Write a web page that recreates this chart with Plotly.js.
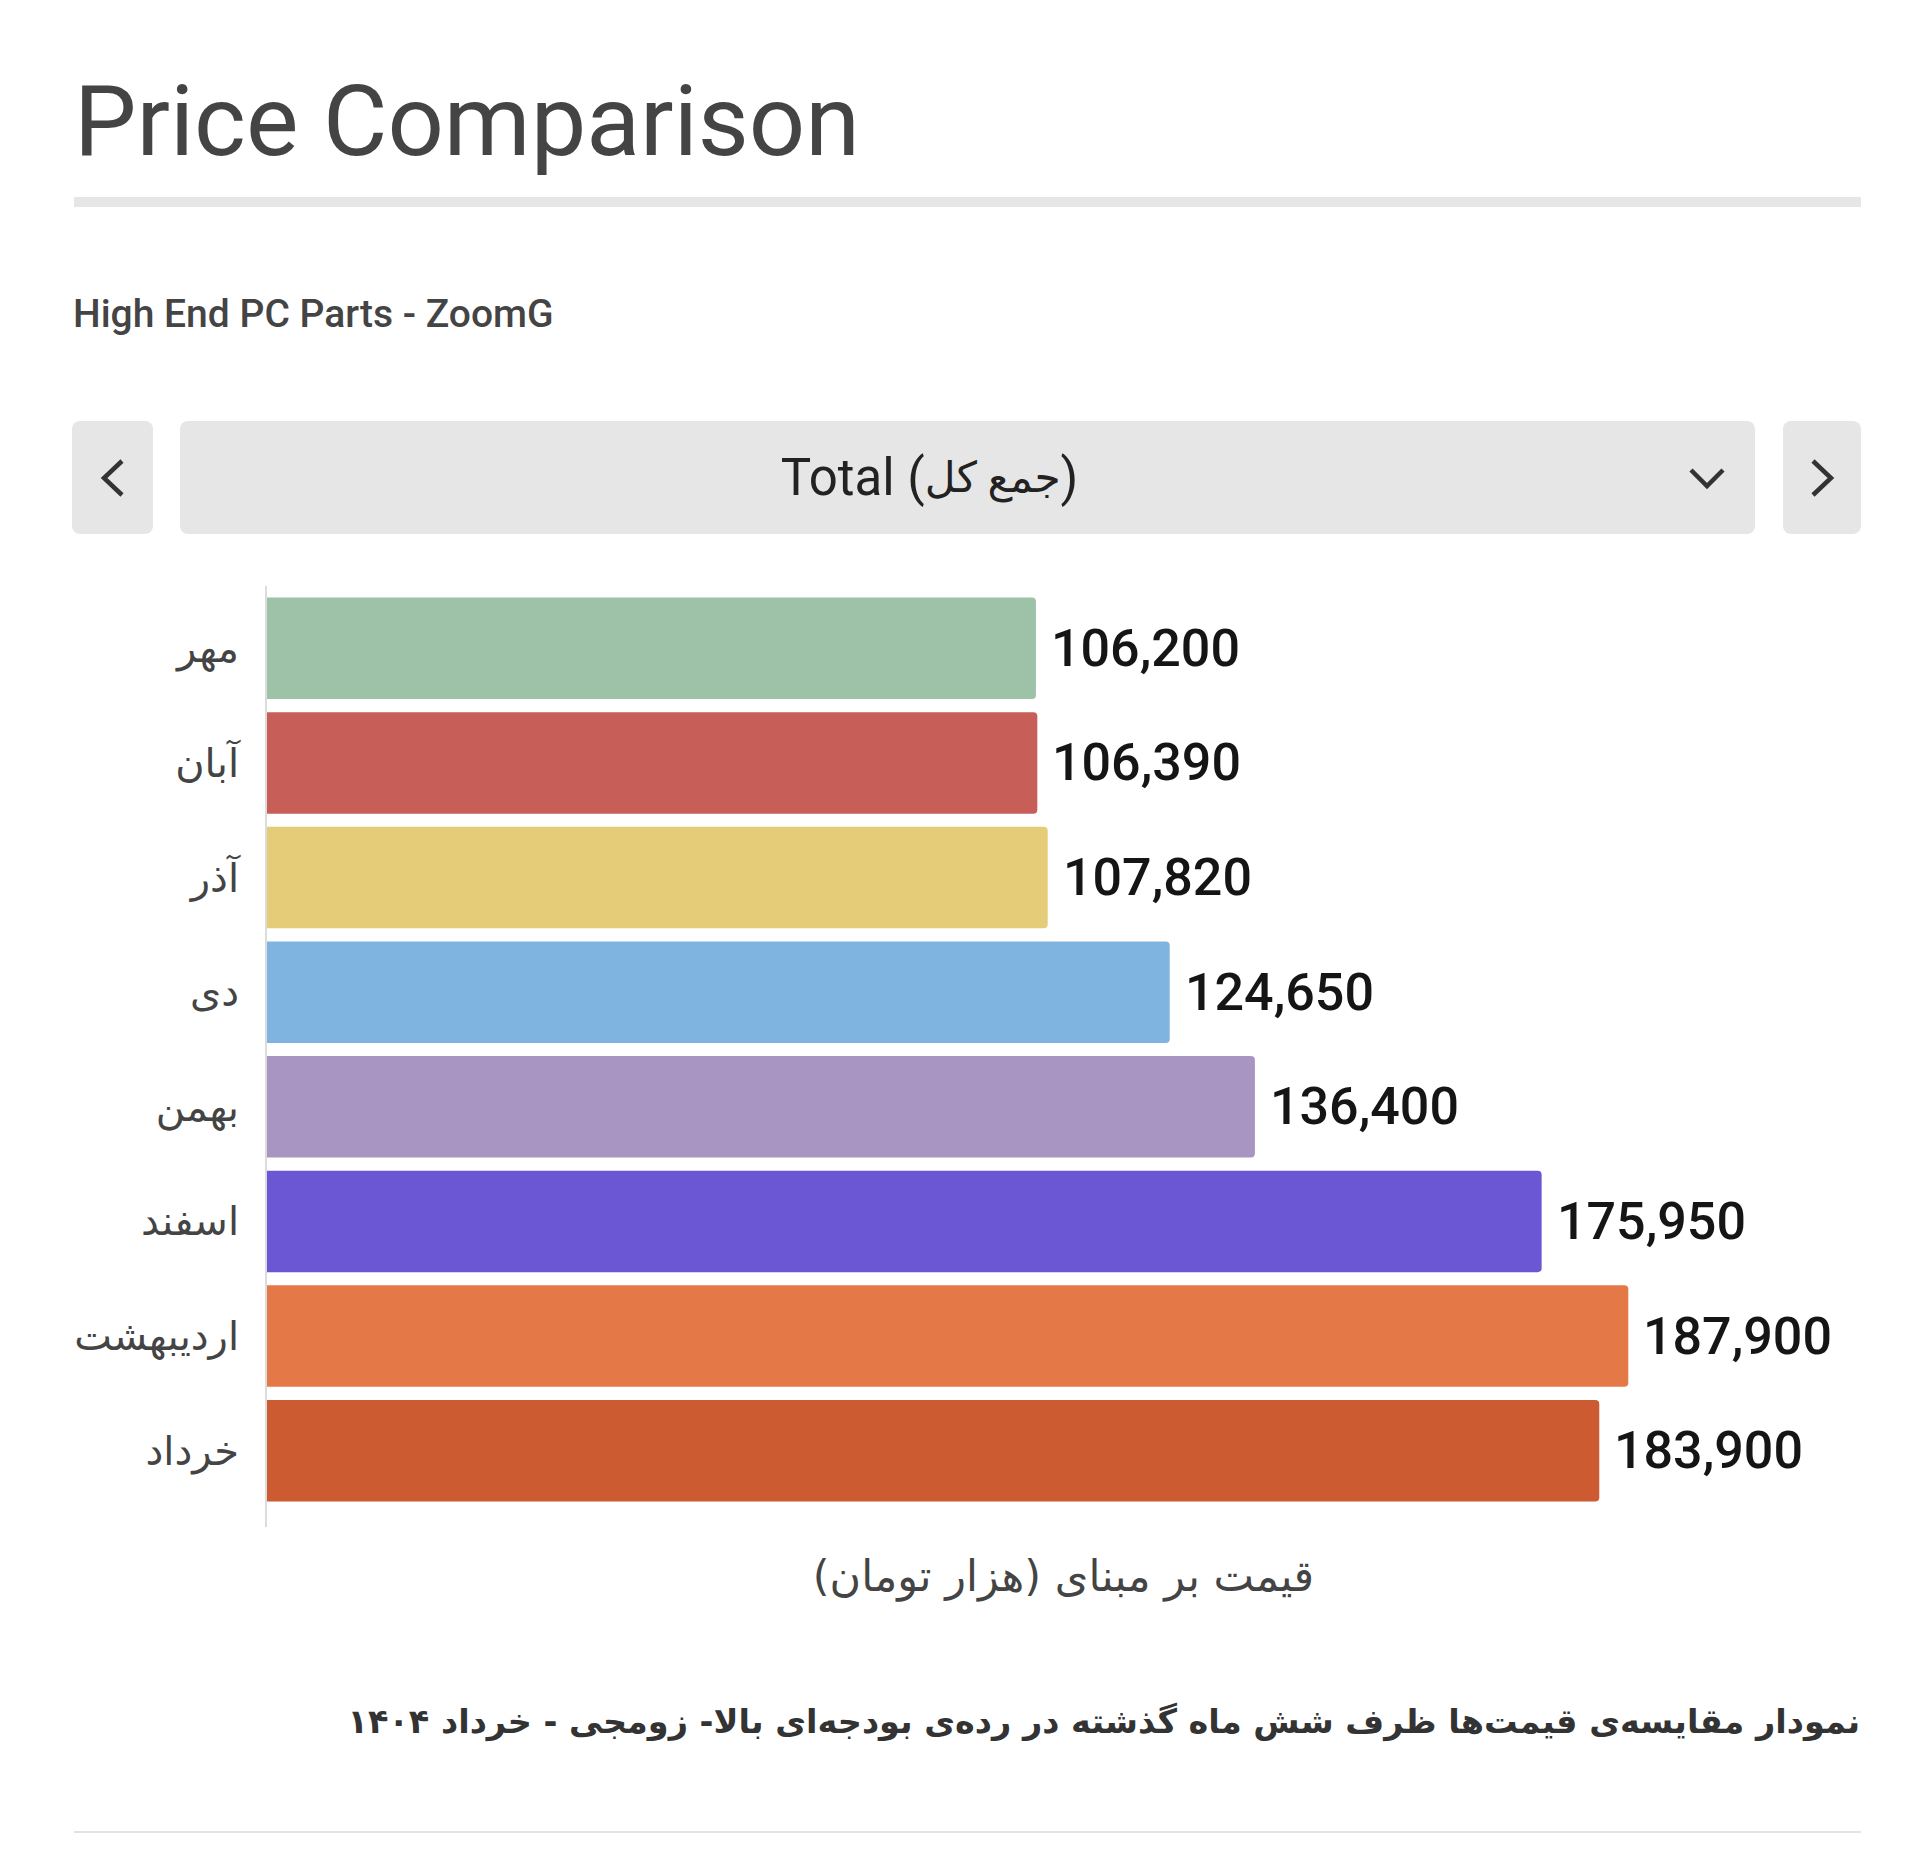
<!DOCTYPE html>
<html>
<head>
<meta charset="utf-8">
<script src="https://cdn.plot.ly/plotly-3.0.1.min.js"></script>
<style>
  body { margin: 0; background: #fff; width: 1920px; height: 1852px; overflow: hidden; position: relative; font-family: Roboto, "DejaVu Sans", sans-serif; }
  #chart { position: absolute; left: 0; top: 0; width: 1920px; height: 1852px; z-index: 1; }
  .ui { position: absolute; z-index: 2; }
  #title { left: 74px; top: 72px; font-size: 99px; line-height: 99px; color: #444; font-weight: 400; }
  #rule { left: 74px; top: 197px; width: 1787px; height: 10px; background: #e6e6e6; }
  #sub { left: 73px; top: 295px; font-size: 39px; line-height: 39px; color: #444; font-weight: 500; }
  .btn { top: 421px; height: 113px; background: #e6e6e6; border-radius: 8px; }
  #prev { left: 72px; width: 81px; }
  #select { left: 180px; width: 1575px; }
  #next { left: 1783px; width: 78px; }
  #seltext { position: absolute; left: 0; top: 0; width: 1499px; height: 113px; display: flex; align-items: center; justify-content: center; font-size: 51px; color: #222; white-space: pre; }
  #seltext span { font-size: 0.83em; }
  .btn svg { position: absolute; left: 0; top: 0; }
  #caption { right: 60px; top: 1698px; font-family: "DejaVu Sans", sans-serif; font-weight: bold; font-size: 33.5px; line-height: 48px; color: #333; direction: rtl; white-space: nowrap; }
  #rule2 { left: 74px; top: 1831px; width: 1787px; height: 2px; background: #e3e3e3; }
</style>
</head>
<body>
<div id="chart"></div>

<div class="ui" id="title">Price Comparison</div>
<div class="ui" id="rule"></div>
<div class="ui" id="sub">High End PC Parts - ZoomG</div>
<div class="ui btn" id="prev">
  <svg width="81" height="113"><polyline points="50,40 32,57 50,74" fill="none" stroke="#333" stroke-width="4.5"/></svg>
</div>
<div class="ui btn" id="select">
  <div id="seltext">Total (<span>جمع کل</span>)</div>
  <svg width="1575" height="113"><polyline points="1511,49 1527,65 1543,49" fill="none" stroke="#333" stroke-width="4.5"/></svg>
</div>
<div class="ui btn" id="next">
  <svg width="78" height="113"><polyline points="30,40 48,57 30,74" fill="none" stroke="#333" stroke-width="4.5"/></svg>
</div>
<div class="ui" id="caption">نمودار مقایسه‌ی قیمت‌ها ظرف شش ماه گذشته در رده‌ی بودجه‌ای بالا- زومجی - خرداد ۱۴۰۴</div>
<div class="ui" id="rule2"></div>

<script>
// months (top to bottom) and total price in thousand toman
var months = ["مهر", "آبان", "آذر", "دی", "بهمن", "اسفند", "اردیبهشت", "خرداد"];
var totals = [106200, 106390, 107820, 124650, 136400, 175950, 187900, 183900];
var barColors = ["#9dc2a8", "#c75f58", "#e5cc78", "#80b4e0", "#a895c2", "#6b56d3", "#e47846", "#cd5b31"];
var axisTitle = "قیمت بر مبنای (هزار تومان)";

var trace = {
  type: "bar",
  orientation: "h",
  x: totals,
  y: months,
  marker: { color: barColors, cornerradius: 4, line: { width: 0 } },
  hoverinfo: "skip"
};

var valueLabels = months.map(function (m, i) {
  return {
    x: totals[i],
    y: m,
    xref: "x",
    yref: "y",
    text: totals[i].toLocaleString("en-US"),
    showarrow: false,
    xanchor: "left",
    yanchor: "middle",
    xshift: 13,
    font: { family: "Roboto", size: 52, color: "#151515", weight: 500 }
  };
});

var layout = {
  width: 1920,
  height: 1852,
  margin: { l: 266, r: 59, t: 591, b: 344 },
  paper_bgcolor: "rgba(0,0,0,0)",
  plot_bgcolor: "rgba(0,0,0,0)",
  bargap: 0.115,
  showlegend: false,
  font: { family: "DejaVu Sans, sans-serif", color: "#444" },
  xaxis: {
    range: [0, 220000],
    showgrid: false,
    zeroline: false,
    showline: false,
    showticklabels: false,
    ticks: "",
    fixedrange: true,
    title: { text: axisTitle, standoff: 52, font: { size: 43, color: "#444" } }
  },
  yaxis: {
    autorange: "reversed",
    showgrid: false,
    zeroline: false,
    showline: false,
    ticks: "",
    ticklabelstandoff: 26,
    tickfont: { size: 40, color: "#444" },
    fixedrange: true
  },
  shapes: [{
    type: "line",
    xref: "paper", yref: "paper",
    x0: 0, x1: 0, y0: -0.0207, y1: 1.0055,
    line: { color: "#dcdcdc", width: 2 }
  }],
  annotations: valueLabels
};

Plotly.newPlot("chart", [trace], layout, { displayModeBar: false, staticPlot: true });
</script>
</body>
</html>
